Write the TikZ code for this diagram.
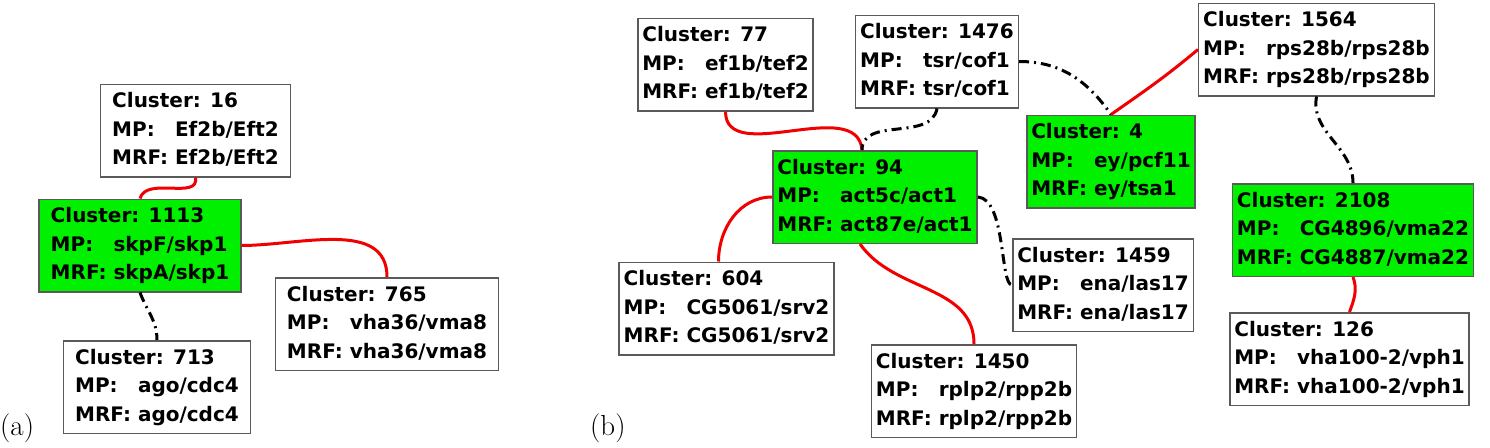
\documentclass[tikz,border=0pt]{standalone}
\usepackage{fontspec}
\newfontfamily\boxfont{DejaVu Sans}
\newcommand{\clus}[3]{\begin{tabular}{@{}l@{ }l@{}}\multicolumn{2}{@{}l@{}}{Cluster: #1}\\ MP: & #2\\ MRF: & #3\end{tabular}}
\definecolor{boxgreen}{RGB}{0,240,0}
\definecolor{boxline}{RGB}{90,90,90}
\definecolor{edgered}{RGB}{240,0,0}
\tikzset{
  clbox/.style={draw=boxline, line width=1.5pt, fill=white, inner xsep=11.5pt, inner ysep=3.5pt,
    font=\boxfont\fontsize{20}{28.5}\selectfont\bfseries},
  hub/.style={clbox, fill=boxgreen},
  nar/.style={inner xsep=4.5pt},
  redge/.style={draw=edgered, line width=3pt},
  dedge/.style={draw=black, line width=3pt, dash pattern=on 10pt off 5pt on 2pt off 5pt},
  panel/.style={font=\fontsize{29}{34}\selectfont\rmfamily, inner sep=0pt, anchor=base west}
}
\begin{document}
\begin{tikzpicture}[x=1pt,y=-1pt]
\useasboundingbox (0,0) rectangle (1490,447);
% panel (a)
\node[clbox] (a16) at (195.5,130.5) {\clus{16}{Ef2b/Eft2}{Ef2b/Eft2}};
\node[hub] (a1113) at (140,245.5) {\clus{1113}{skpF/skp1}{skpA/skp1}};
\node[clbox] (a765) at (387,324) {\clus{765}{vha36/vma8}{vha36/vma8}};
\node[clbox] (a713) at (157,387) {\clus{713}{ago/cdc4}{ago/cdc4}};
\node[panel] (la) at (0,435) {(a)};
\draw[redge] (a16.south) to[out=-80,in=75] (a1113.north);
\draw[redge] (a1113.east) to[out=0,in=90] (a765.north);
\draw[dedge] (a1113.south) to[out=-70,in=90] (a713.north);
% panel (b)
\node[clbox,nar] (b77) at (725.5,64.5) {\clus{77}{ef1b/tef2}{ef1b/tef2}};
\node[clbox,nar] (b1476) at (937,61.5) {\clus{1476}{tsr/cof1}{tsr/cof1}};
\node[hub,nar] (b94) at (875,197) {\clus{94}{act5c/act1}{act87e/act1}};
\node[hub,nar] (b4) at (1111,161.5) {\clus{4}{ey/pcf11}{ey/tsa1}};
\node[clbox,nar] (b1564) at (1316.5,49.5) {\clus{1564}{rps28b/rps28b}{rps28b/rps28b}};
\node[hub,nar] (b2108) at (1353,230) {\clus{2108}{CG4896/vma22}{CG4887/vma22}};
\node[clbox,nar] (b126) at (1349.5,359) {\clus{126}{vha100-2/vph1}{vha100-2/vph1}};
\node[clbox,nar] (b1459) at (1103,285) {\clus{1459}{ena/las17}{ena/las17}};
\node[clbox,nar] (b1450) at (974,391) {\clus{1450}{rplp2/rpp2b}{rplp2/rpp2b}};
\node[clbox,nar] (b604) at (726.5,308.5) {\clus{604}{CG5061/srv2}{CG5061/srv2}};
\node[panel] (lb) at (590,435) {(b)};
\draw[redge] (b77.south) to[out=-90,in=95] ([xshift=-13pt]b94.north);
\draw[dedge] (b1476.south) to[out=-100,in=90] ([xshift=-13pt]b94.north);
\draw[redge] (b94.west) to[out=180,in=90] ([xshift=-8pt]b604.north);
\draw[redge] ([xshift=-15pt]b94.south) to[out=-55,in=90] (b1450.north);
\draw[dedge] (b94.east) .. controls +(28,2) and +(-12,0) .. (b1459.west);
\draw[dedge] (b1476.east) to[out=0,in=125] (b4.north);
\draw[redge] (b1564.west) to[out=-140,in=35] (b4.north);
\draw[dedge] (b1564.south) to[out=-100,in=90] (b2108.north);
\draw[redge] (b2108.south) to[out=-70,in=70] (b126.north);
\end{tikzpicture}
\end{document}
